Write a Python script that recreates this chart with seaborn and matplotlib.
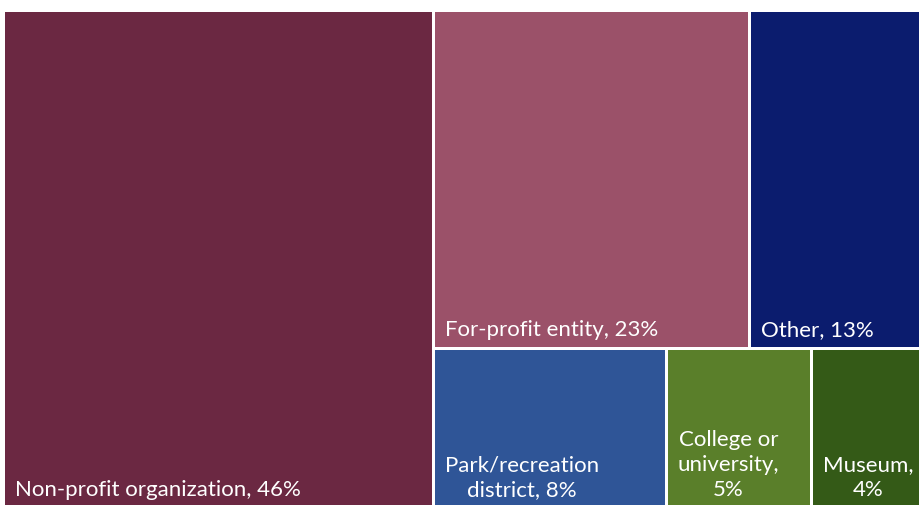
import matplotlib
matplotlib.use("Agg")
import matplotlib.pyplot as plt
from matplotlib.patches import Rectangle
import seaborn as sns

# Share of respondents by organization type
categories = [
    "Non-profit organization",
    "For-profit entity",
    "Other",
    "Park/recreation\ndistrict",
    "College or\nuniversity,\n",
    "Museum,\n",
]
shares = [46, 23, 13, 8, 5, 4]
colors = ["#6B2842", "#9B5169", "#0B1C6E", "#2F5597", "#5A7F2A", "#345A17"]


def label_for(name, pct):
    if name.endswith("\n"):
        return f"{name}{pct}%"
    return f"{name}, {pct}%"


def worst(row, side):
    s = sum(row)
    return max(max(side * side * r / (s * s), (s * s) / (side * side * r)) for r in row)


def layout_row(row, x, y, w, h):
    s = sum(row)
    rects = []
    if w >= h:
        # column on the left
        cw = s / h
        cy = y
        for r in row:
            rh = r / cw
            rects.append((x, cy, cw, rh))
            cy += rh
        return rects, (x + cw, y, w - cw, h)
    rh = s / w
    cx = x
    for r in row:
        rw = r / rh
        rects.append((cx, y, rw, rh))
        cx += rw
    return rects, (x, y + rh, w, h - rh)


def squarify(values, x, y, w, h):
    total = sum(values)
    areas = [v * w * h / total for v in values]
    rects = []
    rest = (x, y, w, h)
    row = []
    i = 0
    while i < len(areas):
        side = min(rest[2], rest[3])
        cand = row + [areas[i]]
        if not row or worst(cand, side) <= worst(row, side):
            row = cand
            i += 1
        else:
            placed, rest = layout_row(row, *rest)
            rects.extend(placed)
            row = []
    if row:
        placed, rest = layout_row(row, *rest)
        rects.extend(placed)
    return rects


sns.set_theme(style="white")
plt.rcParams["font.family"] = ["Lato", "DejaVu Sans"]

W, H = 920, 505
fig = plt.figure(figsize=(W / 100, H / 100), dpi=100)
ax = fig.add_axes([0, 0, 1, 1])
ax.set_xlim(0, W)
ax.set_ylim(H, 0)
ax.axis("off")

gap = 3.0
boxes = squarify(shares, 4, 10, 924, 499)
for (bx, by, bw, bh), name, pct, col in zip(boxes, categories, shares, colors):
    ax.add_patch(Rectangle((bx + gap / 2, by + gap / 2), bw - gap, bh - gap,
                           facecolor=col, edgecolor="none"))
    ax.text(bx + gap / 2 + 10, by + bh - gap / 2 - 11.5, label_for(name, pct),
            ha="left", va="baseline", multialignment="center",
            color="white", fontsize=16, linespacing=1.3)

fig.savefig("out.png", dpi=100, facecolor="white")
